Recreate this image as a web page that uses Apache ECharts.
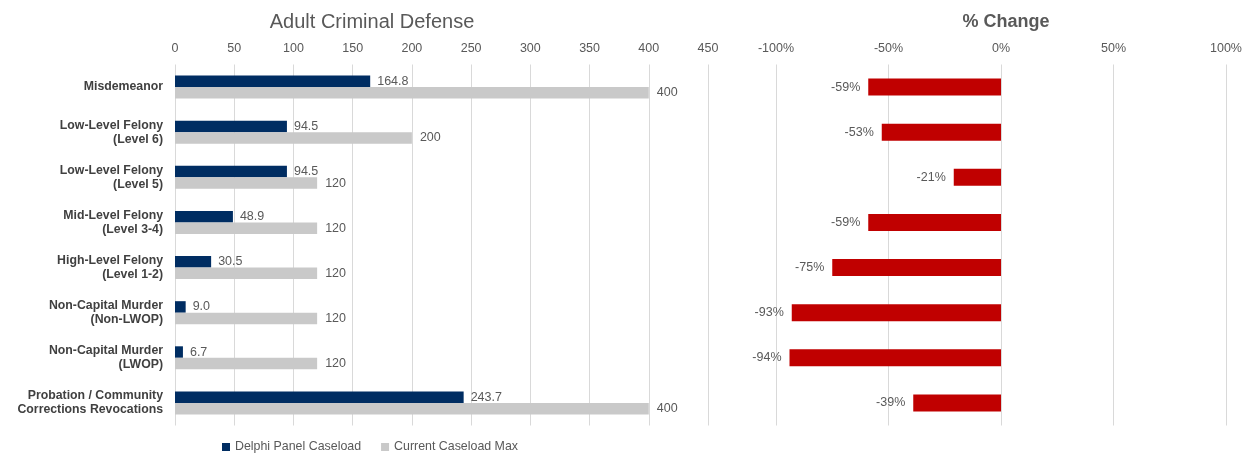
<!DOCTYPE html>
<html><head><meta charset="utf-8">
<script src="https://cdn.jsdelivr.net/npm/echarts@6/dist/echarts.min.js"></script>
<style>html,body{margin:0;padding:0;background:#fff}#c{width:1256px;height:460px}</style>
</head><body><div id="c"></div>
<script>
const categories = ["Misdemeanor","Low-Level Felony\n(Level 6)","Low-Level Felony\n(Level 5)","Mid-Level Felony\n(Level 3-4)","High-Level Felony\n(Level 1-2)","Non-Capital Murder\n(Non-LWOP)","Non-Capital Murder\n(LWOP)","Probation / Community\nCorrections Revocations"];
const delphi = [164.8, 94.5, 94.5, 48.9, 30.5, 9.0, 6.7, 243.7];
const currentMax = [400, 200, 120, 120, 120, 120, 120, 400];
const pctChange = [-0.59, -0.53, -0.21, -0.59, -0.75, -0.93, -0.94, -0.39];
const leftTicks = [0, 450, 50];
const rightTicks = [-1, 1, 0.5];

const font = "Liberation Sans, Arial, sans-serif";
const txt = "#595959";
const chart = echarts.init(document.getElementById('c'), null, {renderer: 'canvas'});
chart.setOption({
  animation: false,
  textStyle: {fontFamily: font},
  title: [
    {text: "Adult Criminal Defense", left: 367, top: 7, textAlign: 'center',
     textStyle: {fontFamily: font, fontSize: 20, fontWeight: 'normal', color: txt}},
    {text: "% Change", left: 1001, top: 8, textAlign: 'center',
     textStyle: {fontFamily: font, fontSize: 18, fontWeight: 'bold', color: txt}}
  ],
  legend: {
    bottom: 2, left: 217, icon: 'rect', itemWidth: 8, itemHeight: 8, itemGap: 20,
    textStyle: {fontFamily: font, fontSize: 12.4, color: txt},
    data: ["Delphi Panel Caseload", "Current Caseload Max"]
  },
  grid: [
    {left: 175, right: 548, top: 64.5, bottom: 34.5},
    {left: 776, right: 30, top: 64.5, bottom: 34.5}
  ],
  xAxis: [
    {gridIndex: 0, type: 'value', position: 'top', min: leftTicks[0], max: leftTicks[1], interval: leftTicks[2],
     axisLine: {show: false}, axisTick: {show: false},
     axisLabel: {fontFamily: font, fontSize: 12.5, color: txt, margin: 9},
     splitLine: {lineStyle: {color: '#d9d9d9'}}},
    {gridIndex: 1, type: 'value', position: 'top', min: rightTicks[0], max: rightTicks[1], interval: rightTicks[2],
     axisLine: {show: false}, axisTick: {show: false},
     axisLabel: {fontFamily: font, fontSize: 12.5, color: txt, margin: 9,
       formatter: v => Math.round(v * 100) + '%'},
     splitLine: {lineStyle: {color: '#d9d9d9'}}}
  ],
  yAxis: [
    {gridIndex: 0, type: 'category', data: categories, inverse: true,
     axisLine: {show: false}, axisTick: {show: false},
     axisLabel: {fontFamily: font, fontSize: 12.3, fontWeight: 'bold', color: '#404040', margin: 12, lineHeight: 14}},
    {gridIndex: 1, type: 'category', data: categories, inverse: true,
     axisLine: {show: false}, axisTick: {show: false}, axisLabel: {show: false}}
  ],
  series: [
    {name: "Delphi Panel Caseload", type: 'bar', xAxisIndex: 0, yAxisIndex: 0, data: delphi,
     itemStyle: {color: '#002d62'}, barGap: '0%', barCategoryGap: '49%',
     label: {show: true, position: 'right', distance: 7, fontFamily: font, fontSize: 12.5, color: txt,
       formatter: p => p.value.toFixed(1)}},
    {name: "Current Caseload Max", type: 'bar', xAxisIndex: 0, yAxisIndex: 0, data: currentMax,
     itemStyle: {color: '#c9c9c9'}, barGap: '0%', barCategoryGap: '49%',
     label: {show: true, position: 'right', distance: 8, fontFamily: font, fontSize: 12.5, color: txt,
       formatter: p => String(Math.round(p.value))}},
    {name: "% Change", type: 'bar', xAxisIndex: 1, yAxisIndex: 1, data: pctChange,
     itemStyle: {color: '#c00000'}, barWidth: 17,
     label: {show: true, position: 'left', distance: 8, fontFamily: font, fontSize: 12.5, color: txt,
       formatter: p => Math.round(p.value * 100) + '%'}}
  ]
});
</script></body></html>
